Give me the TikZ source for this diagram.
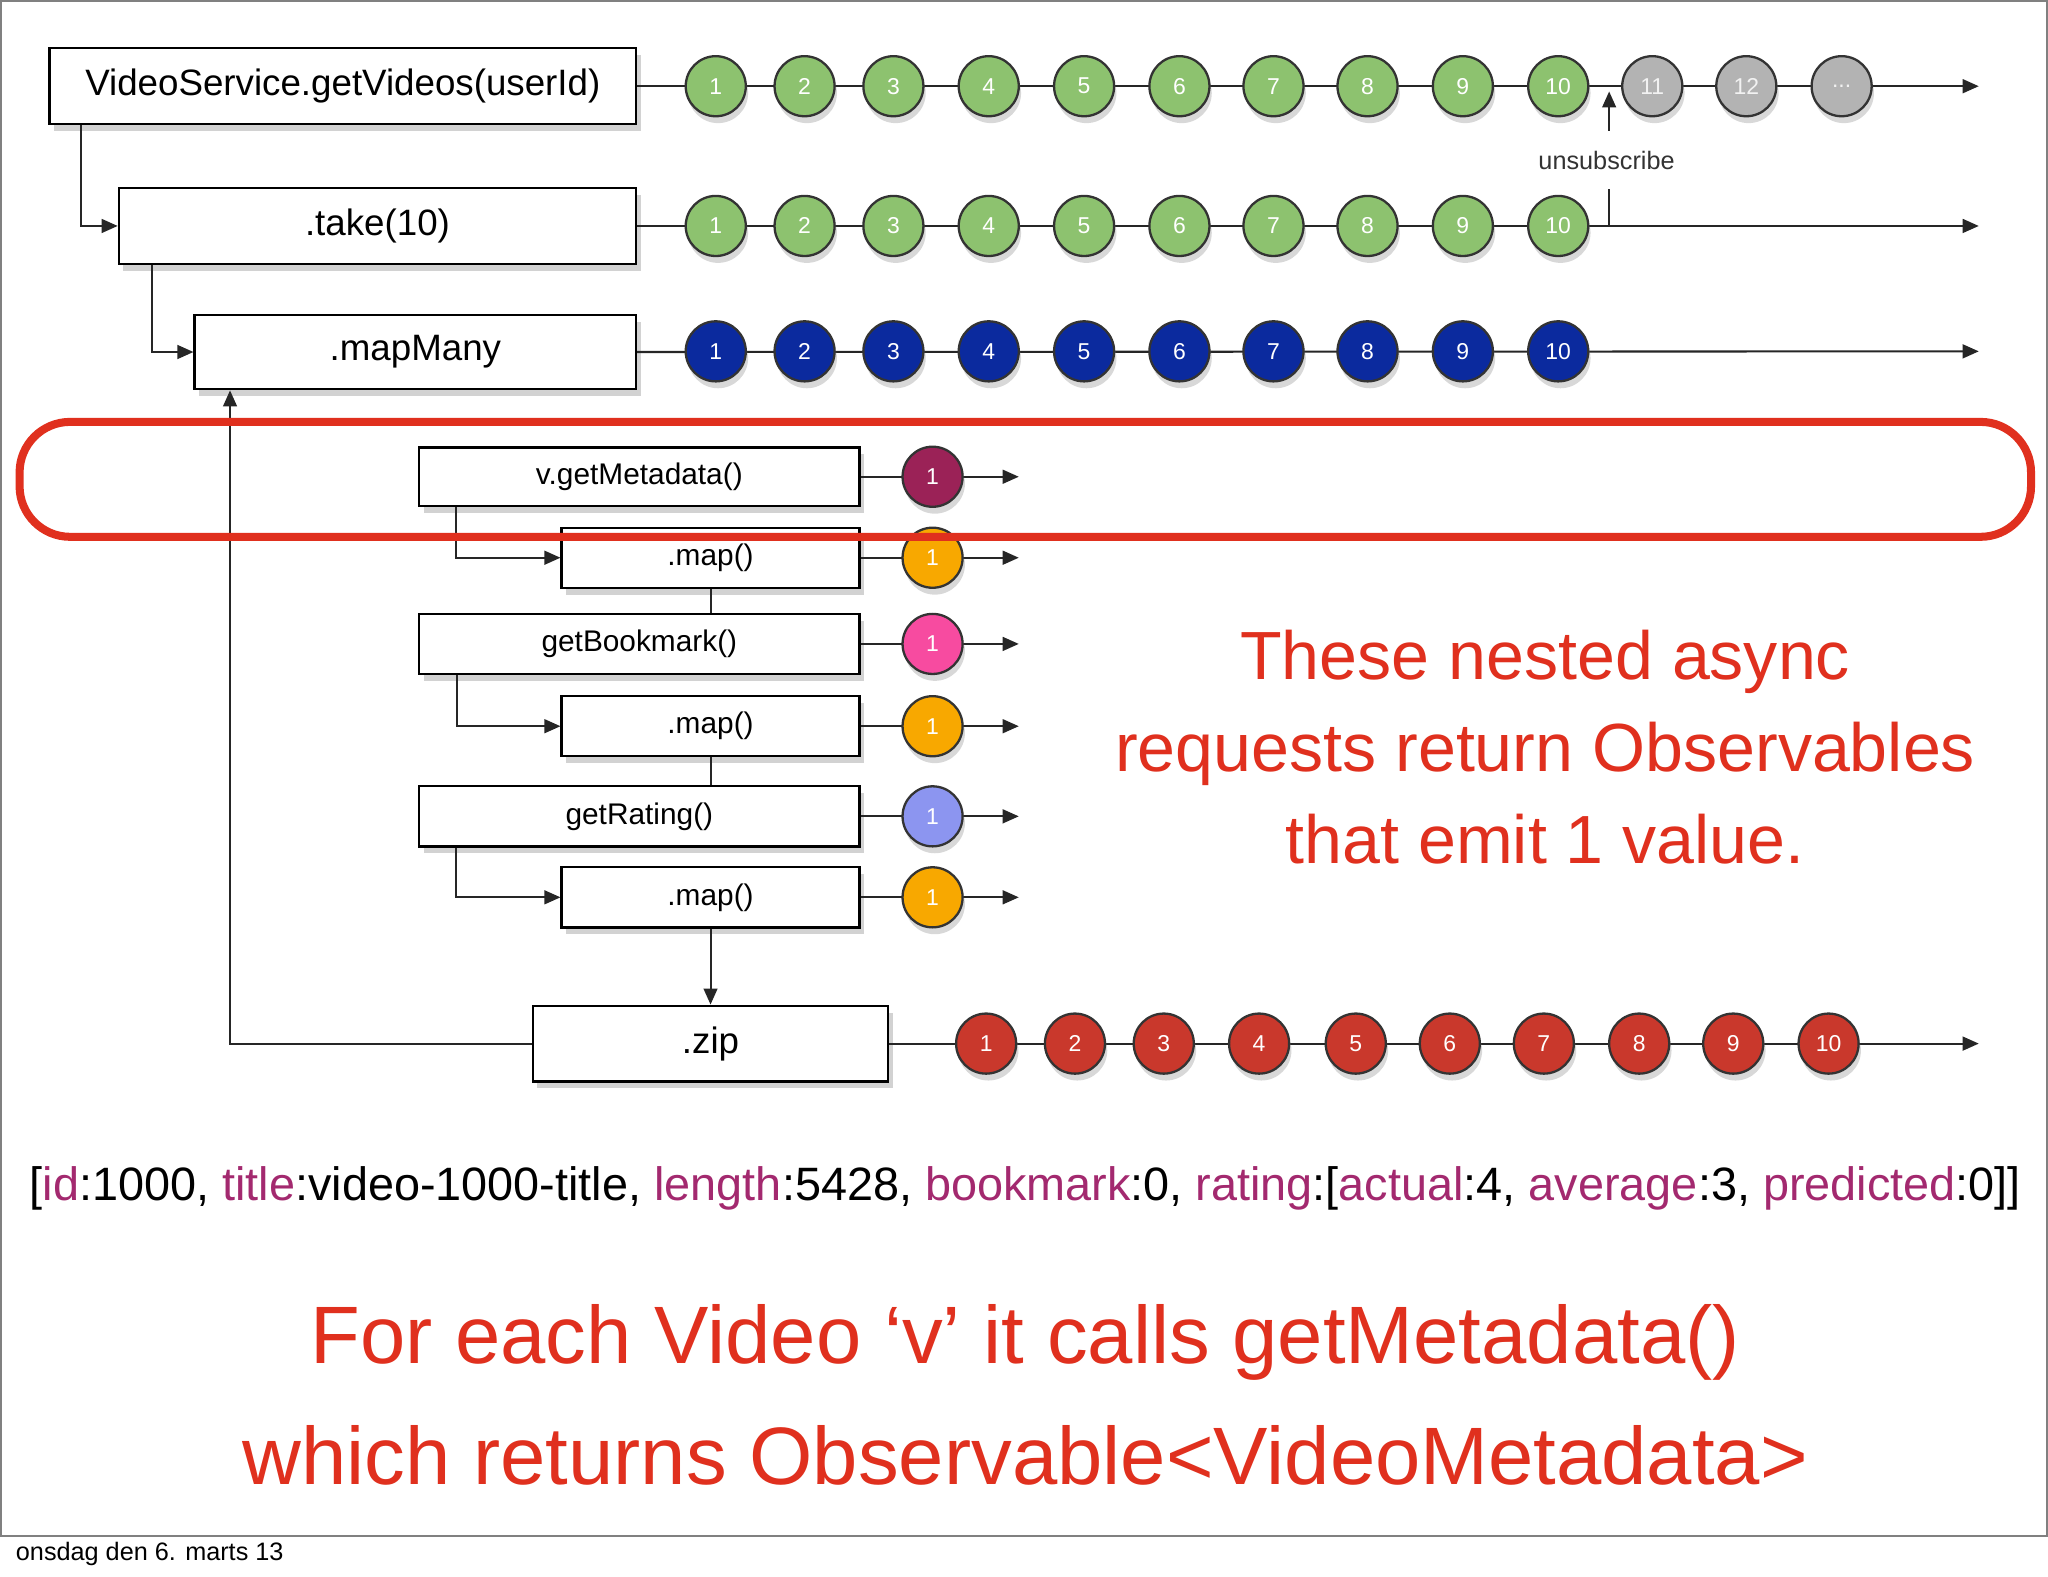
\documentclass[tikz,border=0pt]{standalone}
\usepackage{fontspec}
\setmainfont{Liberation Sans}
\usetikzlibrary{arrows.meta,shadows}
\definecolor{mgreen}{HTML}{8DC26F}
\definecolor{mblue}{HTML}{0B2A9E}
\definecolor{mred}{HTML}{C9382C}
\definecolor{mgray}{HTML}{B3B3B3}
\definecolor{mmaroon}{HTML}{9B2257}
\definecolor{morange}{HTML}{F8A800}
\definecolor{mpink}{HTML}{F74BA0}
\definecolor{mlav}{HTML}{8C95F0}
\definecolor{tred}{HTML}{E0301E}
\definecolor{keyc}{HTML}{A3296F}
\begin{document}
\begin{tikzpicture}[x=0.02cm,y=-0.02cm,
  box/.style n args={2}{draw,line width=1pt,fill=white,drop shadow={opacity=0.35,shadow xshift=2pt,shadow yshift=-3pt},minimum width={#1*0.02cm},minimum height={#2*0.02cm},inner sep=0pt},
  marble/.style={circle,draw=black!80,line width=1pt,fill=#1,minimum size=0.92cm,inner sep=0pt,text=white,font=\fontsize{10}{12}\selectfont,drop shadow={opacity=0.3,shadow xshift=1pt,shadow yshift=-3pt}},
  ln/.style={line width=0.9pt,draw=black!85},
  arr/.style={ln,-{Triangle[length=7pt,width=6pt]}},
  big/.style={font=\fontsize{16}{19}\selectfont},
  small/.style={font=\fontsize{13}{16}\selectfont}]
\useasboundingbox (0,0) rectangle (1568,1207);
\fill[white] (0,0) rectangle (1568,1207);
\draw[black!50,line width=0.8pt] (1,1) rectangle (1567,1176);

% main boxes
\node[box={449}{58},big] (vs) at (262.5,66) {VideoService.getVideos(userId)};
\node[box={396}{58},big] (take) at (289,173) {.take(10)};
\node[box={338}{57},big] (mm) at (318,269.5) {.mapMany};
\coordinate (e1) at (1515,66);
\coordinate (e2) at (1515,173);
\coordinate (e3) at (1515,269);
\draw[arr] (vs.east) -- (e1);
\draw[arr] (take.east) -- (e2);
\draw[arr] (mm.east) -- (e3);
\draw[arr] ([xshift=25*0.02cm]vs.south west) |- (take.west);
\draw[arr] ([xshift=26*0.02cm]take.south west) |- (mm.west);

\foreach \x [count=\i] in {548,616,684,757,830,903,975,1047,1120,1193}{
  \node[marble=mgreen] (a\i) at (\x,66) {\i};
  \node[marble=mgreen] (b\i) at (\x,173) {\i};
  \node[marble=mblue] (c\i) at (\x,269) {\i};
}
\node[marble=mgray,text=white!90!gray] (a11) at (1265,66) {11};
\node[marble=mgray,text=white!90!gray] (a12) at (1337,66) {12};
\node[marble=mgray,text=white!90!gray] (a13) at (1410,66) {...};

% unsubscribe
\coordinate (u0) at (1232,173);
\coordinate (u1) at (1232,145);
\coordinate (u2) at (1232,100);
\coordinate (u3) at (1232,70);
\draw[ln] (u0) -- (u1);
\draw[arr] (u2) -- (u3);
\node[font=\fontsize{11}{13}\selectfont,text=black!80] (unsub) at (1230,123) {unsubscribe};

% nested boxes
\node[box={337}{45},small] (gm) at (489.5,365) {v.getMetadata()};
\node[box={228}{46},small] (m1) at (544,427) {.map()};
\node[box={337}{46},small] (gb) at (489.5,493) {getBookmark()};
\node[box={228}{46},small] (m2) at (544,556) {.map()};
\node[box={337}{46},small] (gr) at (489.5,625) {getRating()};
\node[box={228}{46},small] (m3) at (544,687) {.map()};
\node[box={272}{58},big] (zip) at (544,799) {.zip};

\draw[arr] ([xshift=29*0.02cm]gm.south west) |- (m1.west);
\draw[arr] ([xshift=30*0.02cm]gb.south west) |- (m2.west);
\draw[arr] ([xshift=29*0.02cm]gr.south west) |- (m3.west);
\draw[ln] (m1.south) -- (m1.south |- gb.north);
\draw[ln] (m2.south) -- (m2.south |- gr.north);
\draw[arr] (m3.south) -- (zip.north);
\draw[arr] (zip.west) -| ([xshift=28*0.02cm]mm.south west);

\foreach \n/\y/\c in {gm/365/mmaroon,m1/427/morange,gb/493/mpink,m2/556/morange,gr/625/mlav,m3/687/morange}{
  \coordinate (\n e) at (780,\y);
  \draw[arr] (\n.east) -- (\n e);
  \node[marble=\c] (\n o) at (714,\y) {1};
}

\coordinate (ze) at (1515,799);
\draw[arr] (zip.east) -- (ze);
\foreach \x [count=\i] in {755,823,891,964,1038,1110,1182,1255,1327,1400}{
  \node[marble=mred] (z\i) at (\x,799) {\i};
}

% highlight
\draw[tred,line width=3.5pt,rounded corners=22pt] (15,323) rectangle (1555,411);

% texts
\node[text=tred,font=\fontsize{29.7}{40}\selectfont,align=center] (t1) at (1183,572) {These nested async\\requests return Observables\\that emit 1 value.};
\node[font=\fontsize{20.4}{24}\selectfont] (data) at (785,910) {[\textcolor{keyc}{id}:1000, \textcolor{keyc}{title}:video-1000-title, \textcolor{keyc}{length}:5428, \textcolor{keyc}{bookmark}:0, \textcolor{keyc}{rating}:[\textcolor{keyc}{actual}:4, \textcolor{keyc}{average}:3, \textcolor{keyc}{predicted}:0]]};
\node[text=tred,font=\fontsize{35.5}{53}\selectfont,align=center] (t2) at (785,1068) {For each Video ‘v’ it calls getMetadata()\\which returns Observable<VideoMetadata>};
\node[anchor=west,font=\fontsize{11}{13}\selectfont] (foot) at (6,1190) {onsdag den 6. marts 13};
\end{tikzpicture}
\end{document}
